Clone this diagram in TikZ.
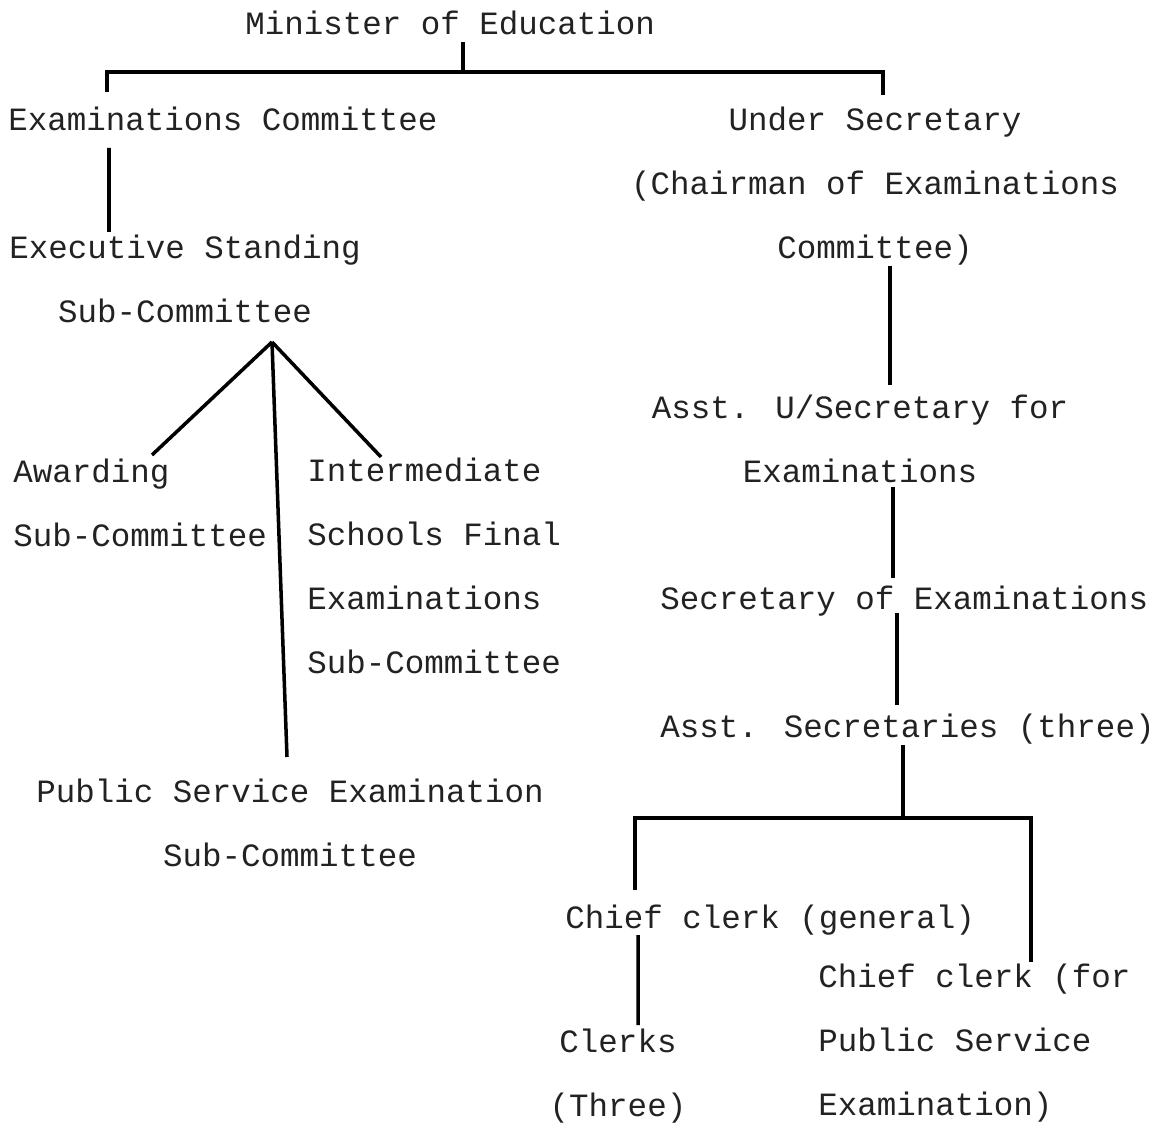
\documentclass[tikz,border=0pt]{standalone}
\usepackage{fontspec}
\setmainfont{Liberation Mono}
\usepackage{tikz}
\usetikzlibrary{positioning, calc}
\usepackage{xcolor}
\definecolor{typeink}{HTML}{222222}

\begin{document}
\begin{tikzpicture}[
  post/.style={inner sep=0pt, text=typeink,
    font=\fontsize{18.5}{36.4}\selectfont},
  link/.style={line width=2pt, black}
]
  \useasboundingbox (0,0) rectangle (23.44,-22.5);

  % Top of the chart
  \node[post, anchor=north west] (minister) at (4.90,-0.22) {Minister of Education};
  \node[post, anchor=north west] (examcom) at (0.16,-2.14) {Examinations Committee};
  \node[post, anchor=north, align=center] (undersec) at (17.50,-2.14)
    {Under Secretary\\(Chairman of Examinations\\Committee)};

  \coordinate (mid) at ([shift={(4.36,-1.22)}]minister.north west);
  \draw[link] ([shift={(4.36,-0.62)}]minister.north west) -- (mid);
  \draw[link] ([shift={(1.98,0.30)}]examcom.north west) |- (mid)
    -| ([shift={(0.16,0.24)}]undersec.north);

  % Committee side
  \node[post, anchor=north, align=center] (exec) at (3.70,-4.70)
    {Executive Standing\\Sub-Committee};
  \node[post, anchor=north west, align=left] (awarding) at (0.26,-9.18)
    {Awarding\\Sub-Committee};
  \node[post, anchor=north west, align=left] (inter) at (6.14,-9.16)
    {Intermediate\\Schools Final\\Examinations\\Sub-Committee};
  \node[post, anchor=north, align=center] (public) at (5.80,-15.58)
    {Public Service Examination\\Sub-Committee};

  \draw[link] ([shift={(2.02,-0.82)}]examcom.north west)
    -- ([shift={(-1.52,0.06)}]exec.north);
  \coordinate (apex) at ([shift={(1.74,-2.14)}]exec.north);
  \draw[link] (apex) -- ([shift={(2.78,0.08)}]awarding.north west);
  \draw[link] (apex) -- ([shift={(1.48,0.02)}]inter.north west);
  \draw[link] (apex) -- ([shift={(-0.06,0.44)}]public.north);

  % Secretariat side
  \node[post, anchor=north, align=center] (asstu) at (17.20,-7.90)
    {Asst. U/Secretary for\\Examinations};
  \node[post, anchor=north west] (secex) at (13.20,-11.72) {Secretary of Examinations};
  \node[post, anchor=north west] (asstsec) at (13.20,-14.28) {Asst. Secretaries (three)};
  \node[post, anchor=north west] (chiefgen) at (11.30,-18.10) {Chief clerk (general)};
  \node[post, anchor=north west, align=left] (chieffor) at (16.36,-19.28)
    {Chief clerk (for\\Public Service\\Examination)};
  \node[post, anchor=north, align=center] (clerks) at (12.36,-20.58)
    {Clerks\\(Three)};

  \draw[link] ([shift={(0.30,-3.18)}]undersec.north)
    -- ([shift={(0.60,0.20)}]asstu.north);
  \draw[link] ([shift={(0.66,-1.84)}]asstu.north)
    -- ([shift={(4.66,0.16)}]secex.north west);
  \draw[link] ([shift={(4.74,-0.54)}]secex.north west)
    -- ([shift={(4.74,0.18)}]asstsec.north west);

  \coordinate (split) at ([shift={(4.86,-2.08)}]asstsec.north west);
  \draw[link] ([shift={(4.86,-0.62)}]asstsec.north west) -- (split);
  \draw[link] ([shift={(1.40,0.30)}]chiefgen.north west) |- (split)
    -| ([shift={(4.26,0.04)}]chieffor.north west);
  \draw[link] ([shift={(1.46,-0.60)}]chiefgen.north west)
    -- ([shift={(0.40,0.08)}]clerks.north);
\end{tikzpicture}
\end{document}
